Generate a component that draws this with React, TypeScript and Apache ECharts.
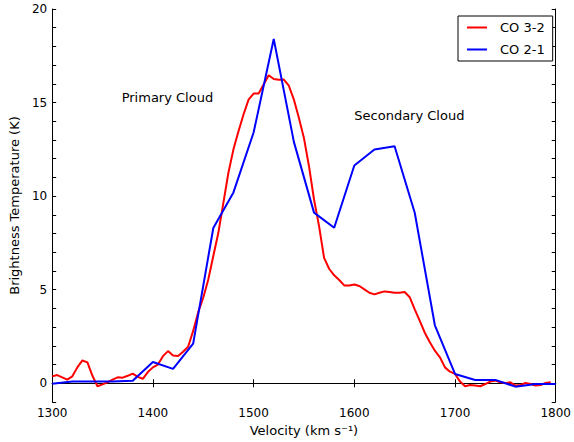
import React, { useEffect, useRef } from "react";
import * as echarts from "echarts";

const redVelocities: number[] = [
  1300, 1305, 1310, 1315, 1320, 1325, 1330, 1335, 1340, 1345, 1350, 1355, 1360, 1365, 1370, 1375, 1380, 1385, 1390, 1395,
  1400, 1405, 1410, 1415, 1420, 1425, 1430, 1435, 1440, 1445, 1450, 1455, 1460, 1465, 1470, 1475, 1480, 1485, 1490, 1495,
  1500, 1505, 1510, 1515, 1520, 1525, 1530, 1535, 1540, 1545, 1550, 1555, 1560, 1565, 1570, 1575, 1580, 1585, 1590, 1595,
  1600, 1605, 1610, 1615, 1620, 1625, 1630, 1635, 1640, 1645, 1650, 1655, 1660, 1665, 1670, 1675, 1680, 1685, 1690, 1695,
  1700, 1705, 1710, 1715, 1720, 1725, 1730, 1735, 1740, 1745, 1750, 1755, 1760, 1765, 1770, 1775, 1780, 1785, 1790, 1795,
];
const co32: number[] = [
  0.37, 0.44, 0.32, 0.2, 0.37, 0.85, 1.22, 1.12, 0.4, -0.16, -0.06, 0.05, 0.2, 0.32, 0.3, 0.4, 0.52, 0.34, 0.24, 0.6,
  0.85, 1.0, 1.45, 1.72, 1.48, 1.46, 1.69, 1.95, 2.8, 3.8, 4.57, 5.55, 6.8, 8.04, 9.64, 11.25, 12.5, 13.47, 14.36, 15.16,
  15.48, 15.48, 15.96, 16.46, 16.26, 16.22, 16.23, 15.9, 15.16, 14.18, 13.1, 11.6, 9.82, 8.4, 6.7, 6.12, 5.77, 5.52, 5.23, 5.23,
  5.28, 5.2, 5.02, 4.84, 4.75, 4.84, 4.91, 4.88, 4.84, 4.84, 4.88, 4.6, 3.95, 3.33, 2.7, 2.19, 1.74, 1.39, 0.85, 0.62,
  0.5, 0.09, -0.16, -0.09, -0.12, -0.16, -0.04, 0.09, 0.14, 0.05, 0.02, 0.05, -0.12, -0.09, 0.02, -0.04, -0.12, -0.09, 0.02, 0.05,
];

const blueVelocities: number[] = [
  1300, 1320, 1340, 1360, 1380, 1400, 1420, 1440, 1460, 1480, 1500, 1520, 1540,
  1560, 1580, 1600, 1620, 1640, 1660, 1680, 1700, 1720, 1740, 1760, 1780, 1800,
];
const co21: number[] = [
  -0.02, 0.1, 0.1, 0.1, 0.14, 1.14, 0.77, 2.12, 8.3, 10.2, 13.4, 18.4, 12.9,
  9.12, 8.31, 11.64, 12.49, 12.67, 9.11, 3.1, 0.5, 0.18, 0.18, -0.18, -0.04, -0.04,
];

const xTicks: number[] = [1300, 1400, 1500, 1600, 1700, 1800];
const yTicks: number[] = [0, 5, 10, 15, 20];

const annotations: { text: string; v: number; t: number }[] = [
  { text: "Primary Cloud", v: 1369, t: 14.95 },
  { text: "Secondary Cloud", v: 1600, t: 13.95 },
];

const FONT = "DejaVu Sans";
const LINE_ICON = "path://M0,0 L20,0 L20,2 L0,2 Z";

export default function App() {
  const ref = useRef<HTMLDivElement>(null);
  useEffect(() => {
    if (!ref.current) return;
    const chart = echarts.init(ref.current, undefined, { renderer: "svg" });
    const isYTick = (v: number) => yTicks.indexOf(v) >= 0;
    const common = {
      min: -1,
      max: 20,
      interval: 1,
      axisLine: { show: true, lineStyle: { color: "#000", width: 1 } },
      splitLine: { show: false },
    };
    chart.setOption({
      animation: false,
      backgroundColor: "#fff",
      grid: { left: 52, right: 17, top: 9, bottom: 39, containLabel: false },
      legend: {
        orient: "vertical",
        left: 458,
        top: 16,
        padding: [5, 8, 5, 9],
        itemGap: 9,
        itemWidth: 20,
        itemHeight: 12,
        borderColor: "#000",
        borderWidth: 1,
        borderRadius: 0,
        backgroundColor: "#fff",
        textStyle: { fontFamily: FONT, fontSize: 13, color: "#000", padding: [0, 0, 0, 8] },
        data: [
          { name: "CO 3-2", icon: LINE_ICON },
          { name: "CO 2-1", icon: LINE_ICON },
        ],
      },
      xAxis: [
        {
          type: "value",
          min: 1300,
          max: 1800,
          interval: 100,
          position: "bottom",
          name: "Velocity (km s⁻¹)",
          nameLocation: "middle",
          nameGap: 22,
          nameTextStyle: { fontFamily: FONT, fontSize: 13, color: "#000" },
          axisLine: { show: true, lineStyle: { color: "#000", width: 1 } },
          axisTick: { show: true, inside: true, length: 4, lineStyle: { color: "#000" } },
          axisLabel: {
            fontFamily: FONT,
            fontSize: 12,
            color: "#000",
            margin: 5,
            formatter: (v: number) => (xTicks.indexOf(v) >= 0 ? String(v) : ""),
          },
          splitLine: { show: false },
        },
        {
          type: "value",
          min: 1300,
          max: 1800,
          interval: 100,
          position: "top",
          axisLine: { show: true, lineStyle: { color: "#000", width: 1 } },
          axisTick: { show: true, inside: true, length: 4, lineStyle: { color: "#000" } },
          axisLabel: { show: false },
          splitLine: { show: false },
        },
      ],
      yAxis: [
        {
          type: "value",
          ...common,
          position: "left",
          name: "Brightness Temperature (K)",
          nameLocation: "middle",
          nameGap: 28,
          nameTextStyle: { fontFamily: FONT, fontSize: 13, color: "#000" },
          axisTick: {
            show: true,
            inside: true,
            length: 4,
            lineStyle: { color: "#000" },
            interval: (_i: number, v: any) => isYTick(Number(v)),
          },
          axisLabel: {
            fontFamily: FONT,
            fontSize: 12,
            color: "#000",
            margin: 5,
            interval: (_i: number, v: any) => isYTick(Number(v)),
            formatter: (v: number) => (isYTick(v) ? String(v) : ""),
          },
        },
        {
          type: "value",
          ...common,
          position: "right",
          axisTick: {
            show: true,
            inside: true,
            length: 4,
            lineStyle: { color: "#000" },
            interval: (_i: number, v: any) => isYTick(Number(v)),
          },
          axisLabel: { show: false },
        },
      ],
      series: [
        {
          name: "CO 3-2",
          type: "line",
          xAxisIndex: 0,
          yAxisIndex: 0,
          symbol: "none",
          lineStyle: { color: "#ff0000", width: 2 },
          itemStyle: { color: "#ff0000" },
          data: redVelocities.map((v, i) => [v, co32[i]]),
        },
        {
          name: "CO 2-1",
          type: "line",
          xAxisIndex: 0,
          yAxisIndex: 0,
          symbol: "none",
          lineStyle: { color: "#0000ff", width: 2 },
          itemStyle: { color: "#0000ff" },
          data: blueVelocities.map((v, i) => [v, co21[i]]),
        },
      ],
    });
    const graphics = annotations.map((a) => {
      const p = chart.convertToPixel({ gridIndex: 0 }, [a.v, a.t]) as number[];
      return {
        type: "text",
        x: p[0],
        y: p[1],
        style: {
          text: a.text,
          fontFamily: FONT,
          fontSize: 13,
          fill: "#000",
          textAlign: "left",
          textVerticalAlign: "bottom",
        },
      };
    });
    chart.setOption({ graphic: graphics });
    return () => chart.dispose();
  }, []);
  return (
    <div
      ref={ref}
      style={{ position: "fixed", left: 0, top: 0, width: 574, height: 442 }}
    />
  );
}
